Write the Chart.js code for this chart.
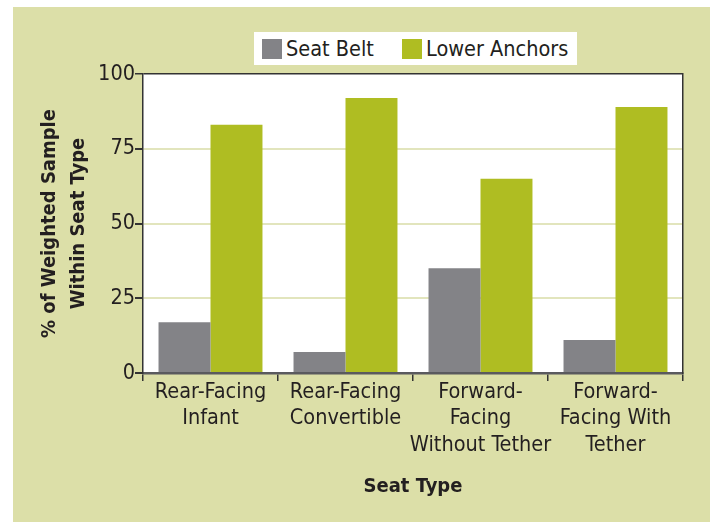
<!DOCTYPE html>
<html>
<head>
<meta charset="utf-8">
<script src="https://cdn.jsdelivr.net/npm/chart.js@4/dist/chart.umd.min.js"></script>
<style>
  body { margin: 0; background: #fff; }
  #panel {
    position: absolute; left: 13px; top: 7px; width: 697px; height: 515px;
    background: #dcdfa8;
  }
  #legend {
    position: absolute; left: 241px; top: 25px; width: 323px; height: 33px;
    background: #fff;
    font-family: 'DejaVu Sans Condensed', 'Liberation Sans Narrow', sans-serif;
    font-size: 21.5px; color: #231f20; white-space: nowrap;
  }
  #legend .item { position: absolute; top: 0; height: 33px; display: flex; align-items: center; }
  #legend .sw { width: 20px; height: 20px; margin-right: 4px; }
  canvas { position: absolute; left: 0; top: 0; }
</style>
</head>
<body>
<div id="panel">
  <canvas id="chart" width="697" height="515"></canvas>
  <div id="legend"></div>
</div>
<script>
// chart data
const seatTypes = [
    ['Rear-Facing', 'Infant'],
    ['Rear-Facing', 'Convertible'],
    ['Forward-', 'Facing', 'Without Tether'],
    ['Forward-', 'Facing With', 'Tether']
];
const seatBelt = [17, 7, 35, 11];
const lowerAnchors = [83, 92, 65, 89];
const seriesNames = ['Seat Belt', 'Lower Anchors'];
const seriesColors = ['#838387', '#afbd22'];
const yTicks = [0, 25, 50, 75, 100];

const fontFamily = "'DejaVu Sans Condensed', 'Liberation Sans Narrow', sans-serif";
Chart.defaults.font.family = fontFamily;
Chart.defaults.color = '#231f20';

// white plot area behind the bars
const plotBackground = {
    id: 'plotBackground',
    beforeDraw(chart) {
        const { ctx, chartArea } = chart;
        ctx.save();
        ctx.fillStyle = '#ffffff';
        ctx.fillRect(chartArea.left, chartArea.top, chartArea.right - chartArea.left, chartArea.bottom - chartArea.top);
        ctx.restore();
    }
};

const ctx = document.getElementById('chart').getContext('2d');

const chart = new Chart(ctx, {
    type: 'bar',
    data: {
        labels: seatTypes,
        datasets: [
            {
                label: seriesNames[0],
                data: seatBelt,
                backgroundColor: seriesColors[0]
            },
            {
                label: seriesNames[1],
                data: lowerAnchors,
                backgroundColor: seriesColors[1]
            }
        ]
    },
    options: {
        responsive: false,
        animation: false,
        devicePixelRatio: 1,
        layout: {
            padding: { left: 0, top: 67, right: 27, bottom: 0 }
        },
        datasets: {
            bar: {
                barPercentage: 1,
                categoryPercentage: 0.77
            }
        },
        plugins: {
            legend: { display: false },
            tooltip: { enabled: false }
        },
        scales: {
            x: {
                grid: {
                    offset: true,
                    drawOnChartArea: false,
                    tickLength: 8,
                    tickColor: '#333',
                    lineWidth: 1.5
                },
                border: {
                    color: '#5a5a5e',
                    width: 2.5
                },
                ticks: {
                    font: { size: 21.5, lineHeight: 1.23 },
                    padding: -2,
                    maxRotation: 0,
                    autoSkip: false
                },
                title: {
                    display: true,
                    text: 'Seat Type',
                    font: { size: 20, weight: 'bold', lineHeight: 1.2 },
                    padding: { top: 0, bottom: 23 }
                },
                afterFit: (scale) => { scale.height = 149; }
            },
            y: {
                min: 0,
                max: 100,
                afterBuildTicks: (scale) => {
                    scale.ticks = yTicks.map(v => ({ value: v }));
                },
                grid: {
                    color: (c) => c.tick && c.tick.value === 100 ? '#333' : (c.tick && c.tick.value === 0 ? 'rgba(0,0,0,0)' : '#e2e5bd'),
                    lineWidth: (c) => c.tick && c.tick.value === 100 ? 1.5 : 2,
                    tickLength: 8,
                    tickColor: '#333'
                },
                border: {
                    color: '#333',
                    width: 1.5
                },
                ticks: {
                    font: { size: 21.5 },
                    padding: 0
                },
                title: {
                    display: true,
                    text: ['% of Weighted Sample', 'Within Seat Type'],
                    font: { size: 20, weight: 'bold', lineHeight: 1.45 },
                    padding: { top: 22.5, bottom: 0 }
                },
                afterFit: (scale) => { scale.width = 130; }
            },
            yRight: {
                position: 'right',
                min: 0,
                max: 100,
                grid: { drawOnChartArea: false, drawTicks: false },
                ticks: { display: false },
                border: { color: '#333', width: 1.5 },
                afterFit: (scale) => { scale.width = 0; }
            }
        }
    },
    plugins: [plotBackground]
});

// legend drawn as html from the dataset settings
const legendEl = document.getElementById('legend');
const legendLeft = [8, 148];
chart.data.datasets.forEach((ds, i) => {
    const item = document.createElement('div');
    item.className = 'item';
    item.style.left = legendLeft[i] + 'px';
    item.innerHTML = '<span class="sw" style="background:' + ds.backgroundColor + '"></span><span>' + ds.label + '</span>';
    legendEl.appendChild(item);
});
</script>
</body>
</html>
